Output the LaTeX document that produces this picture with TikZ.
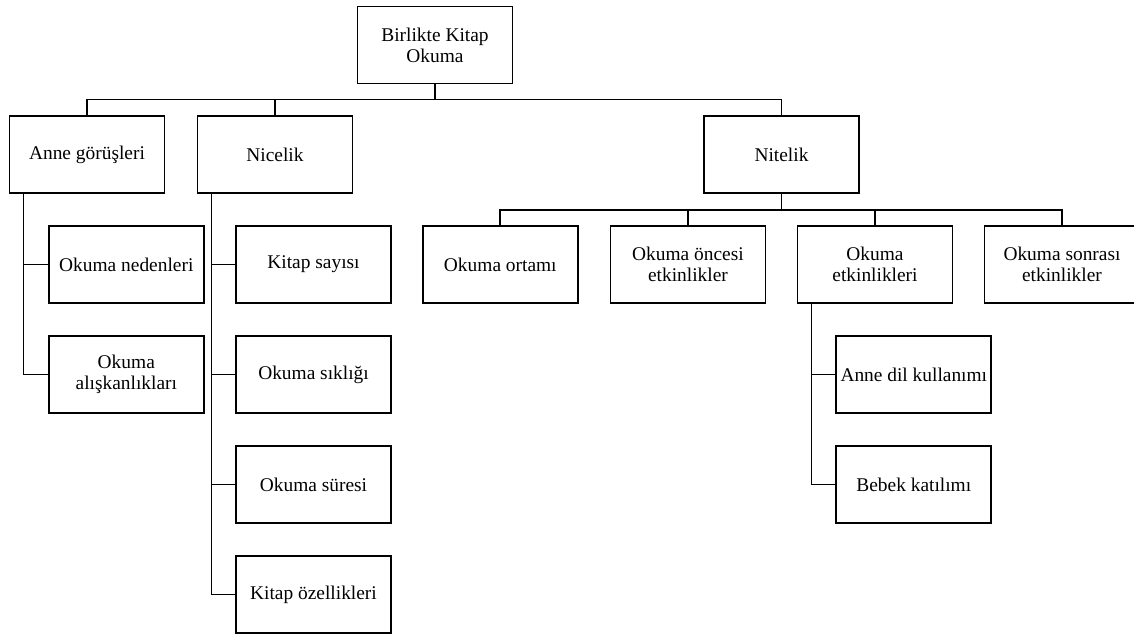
\documentclass[tikz,border=0pt]{standalone}
\usepackage{fontspec}
\setmainfont{Liberation Serif}
\usetikzlibrary{calc}
\tikzset{
  box/.style={draw, line width=1.3pt, minimum width=3.875cm, minimum height=1.925cm,
    align=center, inner sep=1pt, font=\fontsize{13.8}{15}\selectfont},
}
\begin{document}
\begin{tikzpicture}[x=0.025cm,y=-0.025cm]
      \useasboundingbox (0,0) rectangle (1134,634);
      \path
        (435,45) node[box] (root){Birlikte Kitap\\Okuma}
        (87,154.5) node[box] (anne){Anne görüşleri}
        (275,154.5) node[box] (nicelik){Nicelik}
        (781.5,154.5) node[box] (nitelik){Nitelik}
        (126.3,264.5) node[box] (nedenleri){Okuma nedenleri}
        (126.3,374.5) node[box] (aliskanlik){Okuma\\alışkanlıkları}
        (313.5,264.5) node[box] (sayi){Kitap sayısı}
        (313.5,374.5) node[box] (siklik){Okuma sıklığı}
        (313.5,484.5) node[box] (sure){Okuma süresi}
        (313.5,594.5) node[box] (ozellik){Kitap özellikleri}
        (500.3,264.5) node[box] (ortam){Okuma ortamı}
        (688,264.5) node[box] (oncesi){Okuma öncesi\\etkinlikler}
        (875,264.5) node[box] (etkinlik){Okuma\\etkinlikleri}
        (1062,264.5) node[box] (sonrasi){Okuma sonrası\\etkinlikler}
        (913.8,374.5) node[box] (dil){Anne dil kullanımı}
        (913.8,484.5) node[box] (bebek){Bebek katılımı};
      \coordinate (topbus) at (0,99.5);
      \coordinate (nitbus) at (0,210);
      \coordinate (annetrunk) at ($(anne.south west)+(15,0)$);
      \coordinate (nicetrunk) at ($(nicelik.south west)+(15,0)$);
      \coordinate (etktrunk) at ($(etkinlik.south west)+(15,0)$);
      \begin{scope}[line width=1.3pt]
        \draw (root.south) -- (root.south |- topbus);
        \draw (anne.north) |- (nitelik.north |- topbus) -- (nitelik.north);
        \draw (nicelik.north) -- (nicelik.north |- topbus);
        \draw (nitelik.south) -- (nitelik.south |- nitbus);
        \draw (ortam.north) |- (sonrasi.north |- nitbus) -- (sonrasi.north);
        \draw (oncesi.north) -- (oncesi.north |- nitbus);
        \draw (etkinlik.north) -- (etkinlik.north |- nitbus);
        \draw (annetrunk) |- (nedenleri.west);
        \draw (annetrunk) |- (aliskanlik.west);
        \draw (nicetrunk) |- (sayi.west);
        \draw (nicetrunk) |- (siklik.west);
        \draw (nicetrunk) |- (sure.west);
        \draw (nicetrunk) |- (ozellik.west);
        \draw (etktrunk) |- (dil.west);
        \draw (etktrunk) |- (bebek.west);
      \end{scope}
    \end{tikzpicture}
\end{document}
